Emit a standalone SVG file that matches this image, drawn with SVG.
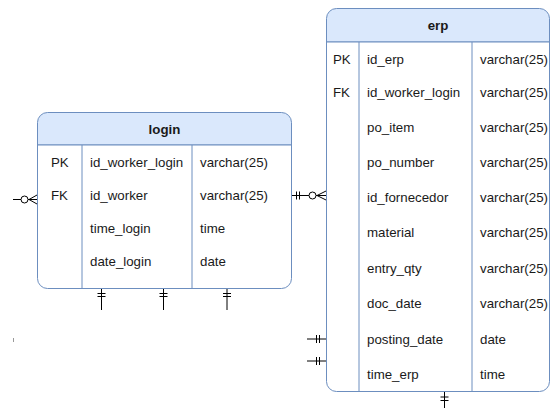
<svg xmlns="http://www.w3.org/2000/svg" width="550" height="408" viewBox="0 0 550 408">
<style>
.box{fill:#ffffff;stroke:#6c8ebf;stroke-width:1}
.hdr{fill:#dae8fc;stroke:#6c8ebf;stroke-width:1}
.div{stroke:#6c8ebf;stroke-width:1;fill:none}
.t{font-family:"Liberation Sans",Arial,sans-serif;font-size:13.3px;fill:#1a1a1a}
.h{font-family:"Liberation Sans",Arial,sans-serif;font-size:13.3px;font-weight:bold;fill:#1a1a1a;text-anchor:middle}
.c{stroke:#000;stroke-width:1;fill:none}
.ci{stroke:#000;stroke-width:1;fill:#fff}
</style>
<rect width="550" height="408" fill="#ffffff"/>
<g id="login">
  <path class="hdr" d="M37.5,145 V122.5 a10,10 0 0 1 10,-10 H281.5 a10,10 0 0 1 10,10 V145 Z"/>
  <path class="box" d="M37.5,145 H291.5 V278.5 a10,10 0 0 1 -10,10 H47.5 a10,10 0 0 1 -10,-10 Z"/>
  <line class="div" x1="82" y1="145" x2="82" y2="288.5"/>
  <line class="div" x1="192" y1="145" x2="192" y2="288.5"/>
  <text class="h" x="164.5" y="133.5">login</text>
  <text class="t" x="51" y="167">PK</text>
  <text class="t" x="90" y="167">id_worker_login</text>
  <text class="t" x="200" y="167">varchar(25)</text>
  <text class="t" x="51" y="200">FK</text>
  <text class="t" x="90" y="200">id_worker</text>
  <text class="t" x="200" y="200">varchar(25)</text>
  <text class="t" x="90" y="233">time_login</text>
  <text class="t" x="200" y="233">time</text>
  <text class="t" x="90" y="266">date_login</text>
  <text class="t" x="200" y="266">date</text>
</g>
<g id="erp">
  <path class="hdr" d="M326.5,42 V18.5 a10,10 0 0 1 10,-10 H539.5 a10,10 0 0 1 10,10 V42 Z"/>
  <path class="box" d="M326.5,42 H549.5 V381.5 a10,10 0 0 1 -10,10 H336.5 a10,10 0 0 1 -10,-10 Z"/>
  <line class="div" x1="359" y1="42" x2="359" y2="391.5"/>
  <line class="div" x1="472" y1="42" x2="472" y2="391.5"/>
  <text class="h" x="438" y="29.5">erp</text>
  <text class="t" x="333" y="64">PK</text>
  <text class="t" x="367" y="64">id_erp</text>
  <text class="t" x="480" y="64">varchar(25)</text>
  <text class="t" x="333" y="97">FK</text>
  <text class="t" x="367" y="97">id_worker_login</text>
  <text class="t" x="480" y="97">varchar(25)</text>
  <text class="t" x="367" y="132">po_item</text>
  <text class="t" x="480" y="132">varchar(25)</text>
  <text class="t" x="367" y="167">po_number</text>
  <text class="t" x="480" y="167">varchar(25)</text>
  <text class="t" x="367" y="202">id_fornecedor</text>
  <text class="t" x="480" y="202">varchar(25)</text>
  <text class="t" x="367" y="237">material</text>
  <text class="t" x="480" y="237">varchar(25)</text>
  <text class="t" x="367" y="273">entry_qty</text>
  <text class="t" x="480" y="273">varchar(25)</text>
  <text class="t" x="367" y="308">doc_date</text>
  <text class="t" x="480" y="308">varchar(25)</text>
  <text class="t" x="367" y="344">posting_date</text>
  <text class="t" x="480" y="344">date</text>
  <text class="t" x="367" y="379">time_erp</text>
  <text class="t" x="480" y="379">time</text>
</g>
<g id="connectors">
  <!-- left of login: zero-or-many -->
  <path class="c" d="M13,199.5 H21 M28,199.5 H37 M29,199.5 L37,195 M29,199.5 L37,204"/>
  <circle class="ci" cx="24.5" cy="199.5" r="3.5"/>
  <!-- login to erp: one ... zero-or-many -->
  <path class="c" d="M292,195.5 H309 M316,195.5 H326 M296.5,191.5 V199.5 M299.5,191.5 V199.5 M317,195.5 L326,191 M317,195.5 L326,200"/>
  <circle class="ci" cx="312.5" cy="195.5" r="3.5"/>
  <!-- login bottom stubs -->
  <path class="c" d="M101.5,289 V310 M97.5,293.5 H105.5 M97.5,296.5 H105.5"/>
  <path class="c" d="M163.5,289 V310 M159.5,293.5 H167.5 M159.5,296.5 H167.5"/>
  <path class="c" d="M227,289 V310 M223,293.5 H231 M223,296.5 H231"/>
  <!-- erp left stubs -->
  <path class="c" d="M307,339 H326 M316.5,335 V343 M319.5,335 V343"/>
  <path class="c" d="M307,361 H326 M316.5,357 V365 M319.5,357 V365"/>
  <!-- erp bottom stub -->
  <path class="c" d="M444.5,392 V408 M440.5,397 H448.5 M440.5,400.5 H448.5"/>
  <!-- tiny cut-off stub -->
  <path d="M13.5,338 V342" stroke="#999" stroke-width="1"/>
</g>
</svg>
